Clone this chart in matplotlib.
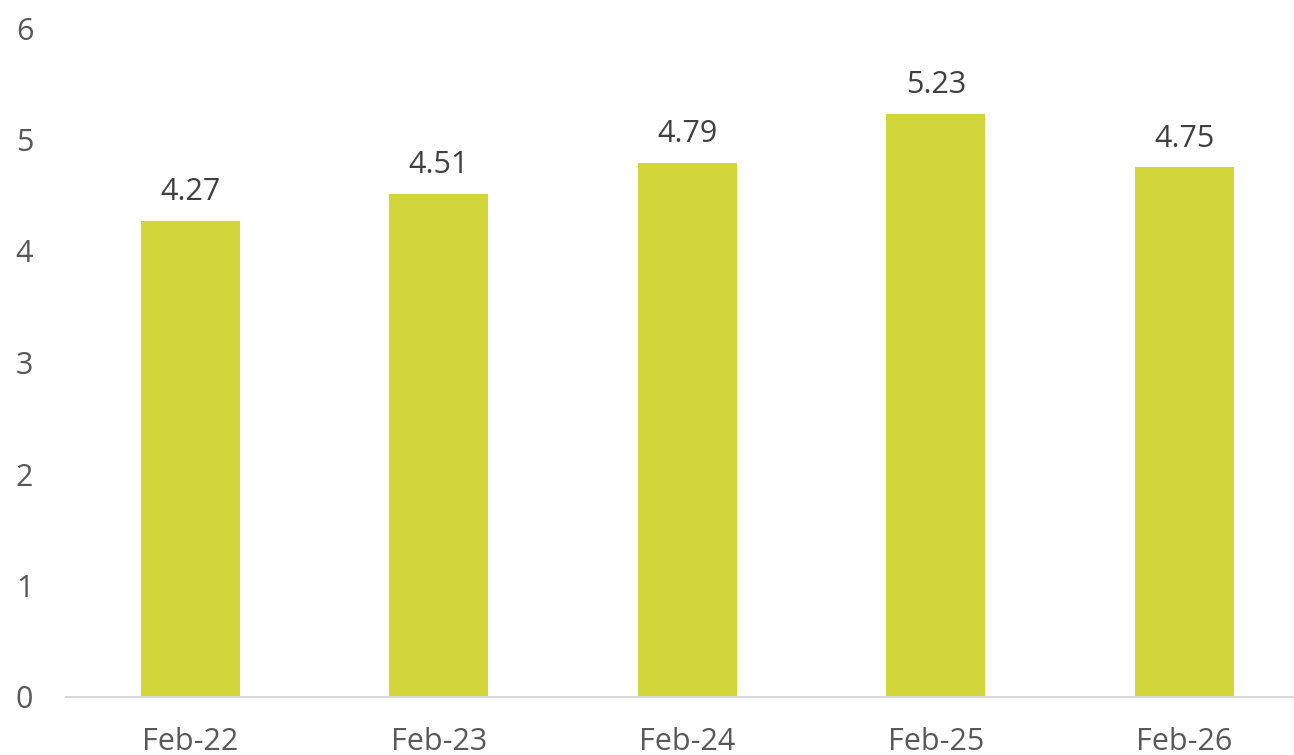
import matplotlib
matplotlib.use("Agg")
import matplotlib.pyplot as plt

categories = ["Feb-22", "Feb-23", "Feb-24", "Feb-25", "Feb-26"]
values = [4.27, 4.51, 4.79, 5.23, 4.75]
yticks = [0, 1, 2, 3, 4, 5, 6]

plt.rcParams['font.family'] = ['Open Sans', 'DejaVu Sans']

W, H = 1294, 755
fig = plt.figure(figsize=(W / 100, H / 100), dpi=100)
left, right = 66, 1294
bottom, top = 697, 28
ax = fig.add_axes([left / W, (H - bottom) / H, (right - left) / W, (bottom - top) / H])

spacing = 248.5
x = list(range(len(categories)))
bars = ax.bar(x, values, width=0.4, color="#D3D63A", zorder=2)

ax.set_xlim(-0.5, -0.5 + (right - left) / spacing)
ax.set_ylim(0, 6)
ax.set_yticks(yticks)
ax.set_yticklabels([str(t) for t in yticks])
ax.set_xticks(x)
ax.set_xticklabels(categories)

for s in ["left", "right", "top"]:
    ax.spines[s].set_visible(False)
ax.spines["bottom"].set_color("#D9D9D9")
ax.spines["bottom"].set_linewidth(1.5)
ax.spines["bottom"].set_zorder(3)

ax.tick_params(axis="y", length=0, pad=23.5, labelsize=22, labelcolor="#595959")
ax.tick_params(axis="x", length=0, pad=21.5, labelsize=22, labelcolor="#595959")
for lbl in ax.get_yticklabels():
    lbl.set_horizontalalignment("right")

for xi, v in zip(x, values):
    ax.annotate(f"{v:.2f}", xy=(xi, v), xytext=(0, 15), textcoords="offset points",
                ha="center", va="baseline", fontsize=22, color="#404040")

fig.savefig("out.png", dpi=100)
